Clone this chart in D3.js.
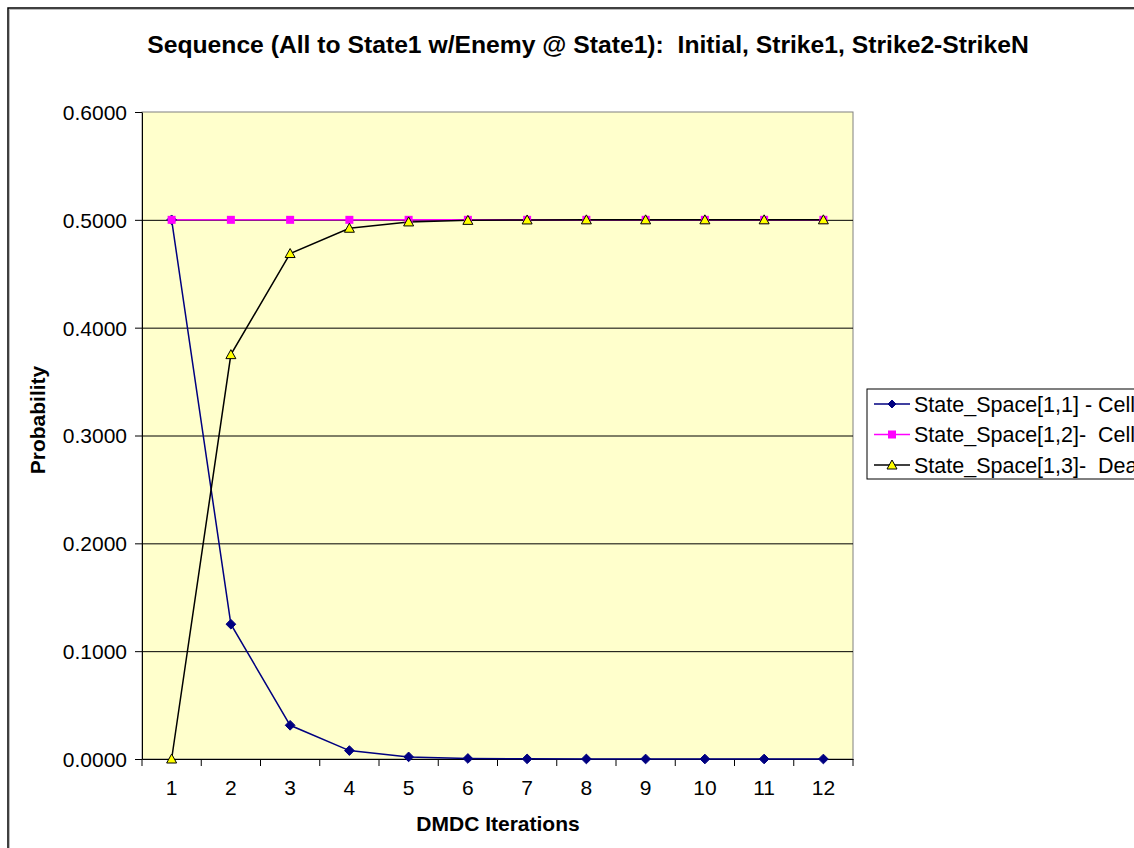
<!DOCTYPE html>
<html>
<head>
<meta charset="utf-8">
<script src="https://cdn.jsdelivr.net/npm/d3@7"></script>
<style>
  body { margin: 0; background: #fff; }
  text { font-family: Arial, "Liberation Sans", sans-serif; white-space: pre; }
</style>
</head>
<body>
<div id="chart"></div>
<script>
// chart data
const iterations = [1, 2, 3, 4, 5, 6, 7, 8, 9, 10, 11, 12];
const cell1 = [0.5, 0.125, 0.03125, 0.0078, 0.00195, 0.00049, 0.00012, 0.00003, 0.00001, 0, 0, 0];
const cell2 = [0.5, 0.5, 0.5, 0.5, 0.5, 0.5, 0.5, 0.5, 0.5, 0.5, 0.5, 0.5];
const dead = [0, 0.375, 0.46875, 0.4922, 0.49805, 0.49951, 0.49988, 0.49997, 0.49999, 0.5, 0.5, 0.5];
const yTicks = [0, 0.1, 0.2, 0.3, 0.4, 0.5, 0.6];
const seriesNames = ["State_Space[1,1] - Cell1", "State_Space[1,2]-  Cell2", "State_Space[1,3]-  Dead"];

const W = 1134, H = 848;
const margin = {top: 112, right: 281, bottom: 89, left: 142};
const width = W - margin.left - margin.right;
const height = H - margin.top - margin.bottom;

const svg = d3.select("#chart").append("svg")
  .attr("width", W).attr("height", H);

// outer frame (clipped at right/bottom like the original)
svg.append("rect").attr("x", 9.5).attr("y", 9.5).attr("width", W + 20).attr("height", H + 20)
  .attr("fill", "none").attr("stroke", "#bbb").attr("stroke-width", 1);
svg.append("rect").attr("x", 8).attr("y", 8).attr("width", W + 20).attr("height", H + 20)
  .attr("fill", "none").attr("stroke", "#000").attr("stroke-width", 1.5);

svg.append("text")
  .attr("x", 588).attr("y", 53)
  .attr("text-anchor", "middle")
  .attr("font-size", 24.7).attr("font-weight", "bold")
  .text("Sequence (All to State1 w/Enemy @ State1):  Initial, Strike1, Strike2-StrikeN");

const g = svg.append("g").attr("transform", `translate(${margin.left},${margin.top})`);

const x = d3.scaleBand().domain(iterations).range([0, width]);
const y = d3.scaleLinear().domain([0, 0.6]).range([height, 0]);
const cx = d => x(d) + x.bandwidth() / 2;

// plot background
g.append("rect").attr("width", width).attr("height", height)
  .attr("fill", "#FFFFCC").attr("stroke", "#808080").attr("stroke-width", 1);

// gridlines
g.append("g").selectAll("line").data(yTicks.filter(t => t > 0 && t < 0.6)).join("line")
  .attr("x1", 0).attr("x2", width)
  .attr("y1", d => y(d) + 0.5).attr("y2", d => y(d) + 0.5)
  .attr("stroke", "#000").attr("stroke-width", 1);

// y axis
const yAxis = g.append("g")
  .call(d3.axisLeft(y).tickValues(yTicks).tickFormat(d3.format(".4f")).tickSize(7).tickSizeOuter(0));
yAxis.select(".domain").attr("stroke", "#000");
yAxis.selectAll("text").attr("font-size", 21).attr("fill", "#000")
  .attr("x", -15).attr("dy", "0.35em");

// x axis
const xAxis = g.append("g").attr("transform", `translate(0,${height})`)
  .call(d3.axisBottom(x).tickSize(0).tickSizeOuter(0));
xAxis.select(".domain").attr("stroke", "#000");
xAxis.selectAll("text").attr("font-size", 21).attr("fill", "#000").attr("y", 36).attr("dy", 0);
// tick marks between categories
g.append("g").selectAll("line").data(d3.range(iterations.length + 1)).join("line")
  .attr("x1", i => i * x.bandwidth()).attr("x2", i => i * x.bandwidth())
  .attr("y1", height).attr("y2", height + 7)
  .attr("stroke", "#000");

svg.append("text")
  .attr("x", 498).attr("y", 831)
  .attr("text-anchor", "middle")
  .attr("font-size", 21).attr("font-weight", "bold")
  .text("DMDC Iterations");

svg.append("text")
  .attr("transform", "translate(45,420) rotate(-90)")
  .attr("text-anchor", "middle")
  .attr("font-size", 21).attr("font-weight", "bold")
  .text("Probability");

const series = [
  {name: seriesNames[0], values: cell1, color: "#000080", marker: "diamond"},
  {name: seriesNames[1], values: cell2, color: "#FF00FF", marker: "square"},
  {name: seriesNames[2], values: dead, color: "#000000", marker: "triangle"}
];

const line = d3.line().x((d, i) => cx(iterations[i])).y(d => y(d));

function drawMarker(sel, s, size) {
  if (s.marker === "diamond") {
    sel.append("path").attr("d", d3.symbol(d3.symbolDiamond2, size)())
      .attr("fill", s.color).attr("stroke", s.color);
  } else if (s.marker === "square") {
    sel.append("rect").attr("x", -4).attr("y", -4).attr("width", 8).attr("height", 8)
      .attr("fill", "#FF00FF");
  } else {
    sel.append("path").attr("d", "M0,-5L5,4L-5,4Z")
      .attr("fill", "#FFFF00").attr("stroke", "#000").attr("stroke-width", 1);
  }
}

series.forEach(s => {
  g.append("path").datum(s.values)
    .attr("d", line)
    .attr("fill", "none").attr("stroke", s.color).attr("stroke-width", 1.5);
});
series.forEach(s => {
  s.values.forEach((v, i) => {
    const m = g.append("g").attr("transform", `translate(${cx(iterations[i])},${y(v)})`);
    drawMarker(m, s, 60);
  });
});

// legend
const lg = svg.append("g").attr("transform", "translate(867,389)");
lg.append("rect").attr("width", 300).attr("height", 90)
  .attr("fill", "#fff").attr("stroke", "#000");
series.forEach((s, i) => {
  const row = lg.append("g").attr("transform", `translate(0,${15 + i * 30.5})`);
  row.append("line").attr("x1", 7).attr("x2", 43)
    .attr("stroke", s.color).attr("stroke-width", 1.5);
  drawMarker(row.append("g").attr("transform", "translate(25,0)"), s, 40);
  row.append("text").attr("x", 47).attr("y", 7.5)
    .attr("font-size", 21.5).attr("fill", "#000").text(s.name);
});
</script>
</body>
</html>
